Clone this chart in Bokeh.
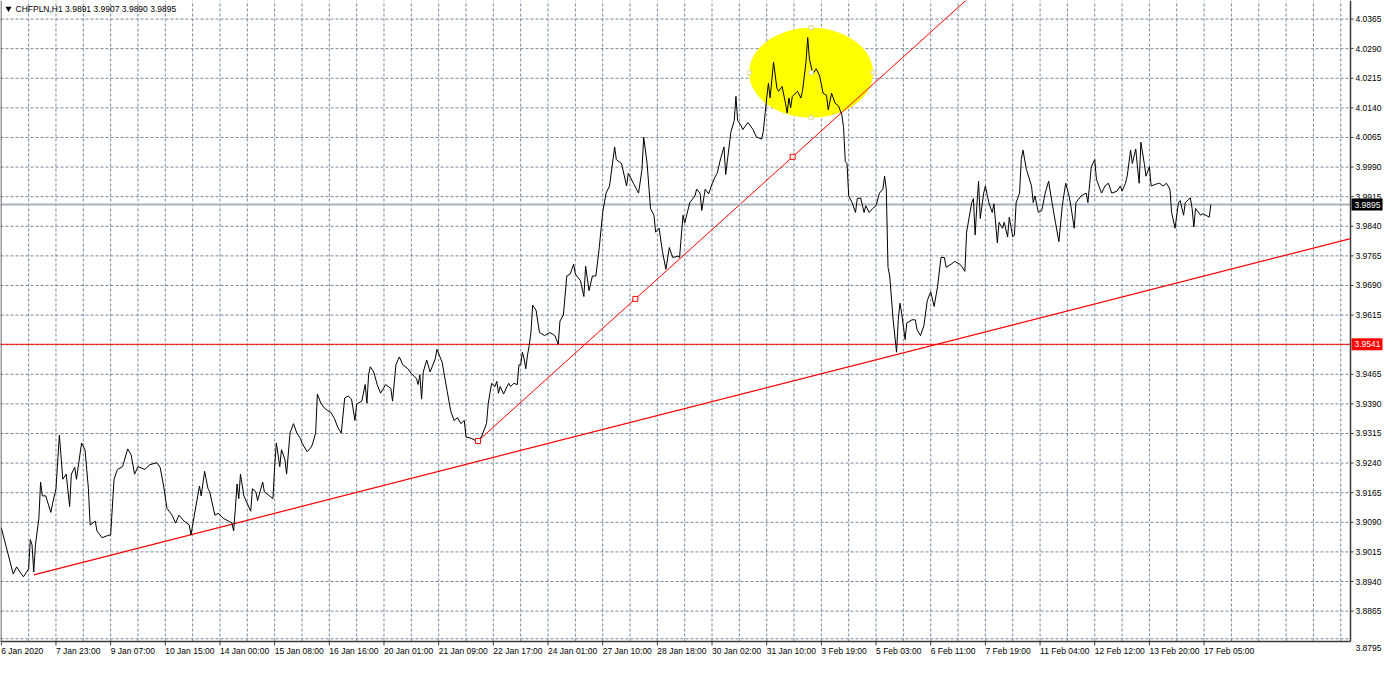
from bokeh.plotting import figure
from bokeh.models import Range1d
from bokeh.embed import file_html
from bokeh.resources import INLINE
from bokeh.core.properties import value

# ---------------- data (hourly bar index since 6 Jan 2020, close price) -------------
bars = [0, 2, 4, 7, 9, 11, 13, 16, 17, 18, 19, 20, 22, 23, 24, 26, 29, 30, 32, 34,
        36, 38, 40, 41, 43, 44, 47, 49, 51, 52, 55, 56, 59, 62, 64, 66, 68, 71, 74, 76,
        78, 80, 84, 87, 91, 93, 95, 97, 100, 102, 104, 107, 110, 111, 113, 116, 117, 119, 121, 122,
        125, 127, 130, 133, 135, 136, 137, 138, 139, 140, 142, 146, 147, 149, 150, 153, 154, 157, 159, 160,
        161, 163, 164, 166, 167, 169, 171, 173, 175, 176, 179, 181, 182, 184, 185, 187, 189, 191, 193, 195,
        197, 199, 201, 203, 205, 207, 208, 211, 213, 214, 215, 216, 218, 220, 222, 225, 228, 229, 231, 233,
        235, 238, 240, 243, 244, 245, 246, 247, 249, 251, 254, 255, 258, 259, 261, 263, 265, 267, 269, 271,
        272, 275, 278, 281, 284, 285, 286, 287, 289, 290, 291, 292, 294, 296, 297, 298, 300, 302, 303, 304,
        305, 306, 307, 308, 309, 310, 311, 313, 315, 318,
        321, 324, 326, 327, 329, 331, 333, 335, 336, 339, 341, 342, 344, 346, 348, 350, 352, 354, 356, 359,
        360, 363, 366, 367, 370, 373, 375, 376, 378, 380, 382, 383, 385, 387, 389, 391, 393, 396, 397, 399,
        400, 403, 406, 407, 409, 410, 412, 414, 416, 418, 419, 421, 423, 424, 427, 429, 430, 431, 433, 434,
        437, 440, 442, 445, 446, 448, 449, 450, 452, 454, 455, 457, 459, 460, 461, 462, 463, 466, 468, 469,
        471, 472, 473, 475, 477, 479, 481, 483, 484, 486, 488, 490, 492, 493, 494, 495, 496, 498, 500, 501,
        503, 505, 506, 508, 510, 512, 514, 516, 517, 518, 519, 520, 522, 524, 525, 526, 527, 529, 530, 533,
        535, 536, 538, 540, 542, 544, 546, 548, 550, 552, 553, 556, 558, 561, 562, 564, 565, 568, 569, 570,
        571, 572, 573, 575, 576, 578, 580, 581, 583, 584, 586, 587, 589, 590, 592, 593, 594, 596, 597, 598,
        600, 603, 604, 605, 607, 609, 611, 613, 615, 617, 619, 621, 623, 625, 626, 628, 629, 632, 635, 636,
        638, 640, 641, 644, 646, 648, 650, 653, 655, 656, 658, 659, 661, 662, 664, 665, 666, 667, 669, 670,
        672, 673, 676, 678, 680, 682, 684, 685, 687, 689, 690, 692, 693, 696, 697, 698, 699, 702, 703, 705,
        707, 708]

close = [3.9076, 3.9043, 3.9009, 3.8959, 3.8977, 3.8964, 3.8952, 3.8972, 3.9046, 3.9033, 3.8964, 3.9033, 3.9100, 3.9192, 3.9157, 3.9157, 3.9115, 3.9137, 3.9175, 3.9311,
         3.9199, 3.9212, 3.9130, 3.9212, 3.9229, 3.9199, 3.9291, 3.9274, 3.9175, 3.9083, 3.9093, 3.9068, 3.9051, 3.9056, 3.9058, 3.9199, 3.9224, 3.9231, 3.9276, 3.9261,
         3.9212, 3.9231, 3.9224, 3.9236, 3.9241, 3.9229, 3.9182, 3.9125, 3.9108, 3.9088, 3.9108, 3.9093, 3.9083, 3.9058, 3.9108, 3.9182, 3.9157, 3.9219, 3.9175, 3.9167,
         3.9108, 3.9113, 3.9100, 3.9093, 3.9088, 3.9068, 3.9125, 3.9187, 3.9150, 3.9212, 3.9157, 3.9118, 3.9175, 3.9167, 3.9145, 3.9192, 3.9167, 3.9157, 3.9150, 3.9231,
         3.9291, 3.9231, 3.9274, 3.9249, 3.9212, 3.9316, 3.9340, 3.9316, 3.9303, 3.9291, 3.9269, 3.9278, 3.9286, 3.9316, 3.9415, 3.9392, 3.9380, 3.9373, 3.9368, 3.9353,
         3.9330, 3.9316, 3.9405, 3.9410, 3.9402, 3.9348, 3.9390, 3.9397, 3.9439, 3.9392, 3.9464, 3.9484, 3.9471, 3.9439, 3.9417, 3.9439, 3.9429, 3.9397, 3.9489, 3.9509,
         3.9489, 3.9479, 3.9467, 3.9454, 3.9439, 3.9464, 3.9402, 3.9471, 3.9501, 3.9471, 3.9504, 3.9528, 3.9496, 3.9471, 3.9422, 3.9373, 3.9348, 3.9355, 3.9340, 3.9348,
         3.9306, 3.9303, 3.9296, 3.9306, 3.9340, 3.9390, 3.9417, 3.9442, 3.9434, 3.9447, 3.9417, 3.9434, 3.9415, 3.9434, 3.9442, 3.9434, 3.9442, 3.9439, 3.9489, 3.9489,
         3.9521, 3.9504, 3.9479, 3.9514, 3.9538, 3.9571, 3.9640, 3.9627, 3.9571, 3.9563,
         3.9571, 3.9563, 3.9541, 3.9600, 3.9615, 3.9714, 3.9719, 3.9744, 3.9719, 3.9702, 3.9662, 3.9739, 3.9677, 3.9714, 3.9714, 3.9786, 3.9875, 3.9924, 3.9942, 4.0041,
         4.0009, 3.9999, 3.9942, 3.9974, 3.9949, 3.9924, 3.9984, 4.0066, 3.9999, 3.9885, 3.9868, 3.9825, 3.9835, 3.9776, 3.9731, 3.9786, 3.9761, 3.9764, 3.9761, 3.9868,
         3.9848, 3.9900, 3.9917, 3.9934, 3.9924, 3.9880, 3.9934, 3.9922, 3.9947, 3.9967, 3.9974, 4.0011, 4.0041, 3.9971, 4.0078, 4.0108, 4.0169, 4.0108, 4.0095, 4.0085,
         4.0103, 4.0085, 4.0066, 4.0061, 4.0080, 4.0165, 4.0202, 4.0165, 4.0256, 4.0189, 4.0182, 4.0194, 4.0152, 4.0127, 4.0165, 4.0140, 4.0169, 4.0182, 4.0165, 4.0184,
         4.0256, 4.0318, 4.0264, 4.0226, 4.0239, 4.0221, 4.0177, 4.0172, 4.0135, 4.0177, 4.0152, 4.0145, 4.0122, 4.0090, 4.0004, 3.9999, 3.9917, 3.9900, 3.9875, 3.9910,
         3.9912, 3.9875, 3.9892, 3.9875, 3.9885, 3.9892, 3.9924, 3.9934, 3.9967, 3.9934, 3.9736, 3.9714, 3.9603, 3.9521, 3.9603, 3.9645, 3.9620, 3.9553, 3.9595, 3.9603,
         3.9603, 3.9578, 3.9563, 3.9588, 3.9652, 3.9674, 3.9637, 3.9687, 3.9761, 3.9761, 3.9736, 3.9744, 3.9751, 3.9744, 3.9739, 3.9726, 3.9825, 3.9900, 3.9910, 3.9818,
         3.9892, 3.9954, 3.9860, 3.9924, 3.9942, 3.9900, 3.9875, 3.9897, 3.9798, 3.9850, 3.9835, 3.9850, 3.9813, 3.9863, 3.9813, 3.9818, 3.9900, 3.9924, 4.0009, 4.0033,
         3.9984, 3.9942, 3.9900, 3.9917, 3.9875, 3.9880, 3.9924, 3.9954, 3.9900, 3.9850, 3.9801, 3.9892, 3.9949, 3.9917, 3.9892, 3.9835, 3.9900, 3.9917, 3.9924, 3.9900,
         3.9991, 4.0009, 3.9959, 3.9924, 3.9942, 3.9949, 3.9924, 3.9929, 3.9942, 3.9929, 3.9949, 3.9967, 4.0033, 3.9999, 4.0036, 3.9991, 3.9949, 4.0053, 3.9999, 3.9967,
         3.9991, 3.9942, 3.9947, 3.9949, 3.9942, 3.9949, 3.9934, 3.9875, 3.9835, 3.9900, 3.9905, 3.9868, 3.9900, 3.9912, 3.9885, 3.9838, 3.9885, 3.9868, 3.9872, 3.9868,
         3.9863, 3.9895]

x_labels = ["6 Jan 2020", "7 Jan 23:00", "9 Jan 07:00", "10 Jan 15:00", "14 Jan 00:00",
            "15 Jan 08:00", "16 Jan 16:00", "20 Jan 01:00", "21 Jan 09:00", "22 Jan 17:00",
            "24 Jan 01:00", "27 Jan 10:00", "28 Jan 18:00", "30 Jan 02:00", "31 Jan 10:00",
            "3 Feb 19:00", "5 Feb 03:00", "6 Feb 11:00", "7 Feb 19:00", "11 Feb 04:00",
            "12 Feb 12:00", "13 Feb 20:00", "17 Feb 05:00"]
x_label_bars = [0, 32, 64, 96, 128, 160, 192, 224, 256, 288, 320, 352, 384, 416, 448,
                480, 512, 544, 576, 608, 640, 672, 704]

y_ticks = [3.8865, 3.8940, 3.9015, 3.9090, 3.9165, 3.9240, 3.9315, 3.9390, 3.9465,
           3.9615, 3.9690, 3.9765, 3.9840, 3.9915, 3.9990, 4.0065, 4.0140, 4.0215,
           4.0290, 4.0365]
y_grid_extra = [3.8795, 3.9540]
y_bottom_label = 3.8795

title_text = "CHFPLN,H1  3.9891 3.9907 3.9890 3.9895"
bid_price = 3.9895
level_price = 3.9541

# drawn objects (anchor points: bar, price)
trend1 = [(19, 3.8957), (524, 3.9515)]      # long support ray
trend2 = [(279, 3.9296), (463.2, 4.0016)]   # steep selected ray
ellipse_center = (474.0, 4.0229)
ellipse_w_bars = 72.5
ellipse_h_price = 0.0228

# ---------------- layout -----------------------------------------------------------
W, H = 1384, 658          # canvas
CW, CH = 1350, 641        # chart (price area) size in px, at top-left of canvas
X0, X1 = -0.46, 789.7     # visible bars in chart area
Y0, Y1 = 3.8788, 4.0412   # visible prices in chart area
ppb = CW / (X1 - X0)
ppp = CH / (Y1 - Y0)
def dx(px): return px / ppb
def dy(px): return px / ppp

FONT = value("Liberation Sans")
FS = "8.5px"
GRID = "#778899"
FRAME = "#3a3a3a"

p = figure(width=W, height=H,
           x_range=Range1d(X0, X0 + W / ppb), y_range=Range1d(Y1 - H / ppp, Y1),
           x_axis_location=None, y_axis_location=None,
           output_backend="svg", toolbar_location=None,
           min_border=0, min_border_left=0, min_border_right=0,
           min_border_top=0, min_border_bottom=0,
           background_fill_color="white", border_fill_color="white")
p.outline_line_color = None
p.xgrid.visible = False
p.ygrid.visible = False

# grid (dashed)
gx = [b for b in range(16, 790, 16) if b < X1]
p.segment(x0=gx, y0=[Y0] * len(gx), x1=gx, y1=[Y1] * len(gx),
          line_color=GRID, line_dash="3 2", line_width=1)
gy = sorted(y_ticks + y_grid_extra)
p.segment(x0=[X0] * len(gy), y0=gy, x1=[X1] * len(gy), y1=gy,
          line_color=GRID, line_dash="3 2", line_width=1)

# yellow ellipse
p.ellipse(x=[ellipse_center[0]], y=[ellipse_center[1]], width=[ellipse_w_bars],
          height=[ellipse_h_price], fill_color="#ffff00", line_color=None)

# trend rays (extended to the right edge of the chart area)
def ray(a, b):
    (x1, y1), (x2, y2) = a, b
    slope = (y2 - y1) / (x2 - x1)
    return [x1, X1], [y1, y1 + slope * (X1 - x1)]

rx, ry = ray(*trend1)
p.line(rx, ry, color="#ff0000", line_width=1.2)
rx2, ry2 = ray(*trend2)
p.line(rx2, ry2, color="#ff0000", line_width=1)

# horizontal lines: bid and level
p.line([X0, X1], [bid_price, bid_price], color="#a9b3bd", line_width=2)
p.line([X0, X1], [level_price, level_price], color="#ff0000", line_width=1)

# price line
p.line(bars, close, color="black", line_width=1)

# selection handles on steep trend line
mid = ((trend2[0][0] + trend2[1][0]) / 2, (trend2[0][1] + trend2[1][1]) / 2)
p.scatter([trend2[0][0], mid[0], trend2[1][0]], [trend2[0][1], mid[1], trend2[1][1]],
          marker="square", size=5, fill_color="white", line_color="#ff0000", line_width=1)

# selection handles on ellipse
ex, ey = ellipse_center
hx = [ex, ex - ellipse_w_bars / 2, ex + ellipse_w_bars / 2, ex, ex]
hy = [ey + ellipse_h_price / 2, ey, ey, ey - ellipse_h_price / 2, ey]
p.scatter(hx, hy, marker="square", size=4, fill_color="white", line_color="#d8d890", line_width=1)

# chart frame (left, right, bottom)
p.line([X0 + dx(0.5), X0 + dx(0.5)], [Y0, Y1], color=FRAME, line_width=1)
p.line([X1, X1], [Y0, Y1], color=FRAME, line_width=1.5)
p.line([X0, X1], [Y0, Y0], color=FRAME, line_width=1.5)

# price scale: ticks + labels
n = len(y_ticks)
p.segment(x0=[X1] * n, y0=y_ticks, x1=[X1 + dx(3)] * n, y1=y_ticks, line_color=FRAME, line_width=1)
p.text(x=[X1 + dx(5)] * n, y=y_ticks, text=[f"{t:.4f}" for t in y_ticks],
       text_align="left", text_baseline="middle", text_font=FONT,
       text_font_size=FS, text_color="black")
p.text(x=[X1 + dx(5)], y=[Y0 - dy(3)], text=[f"{y_bottom_label:.4f}"],
       text_align="left", text_baseline="top", text_font=FONT,
       text_font_size=FS, text_color="black")

# time scale: ticks + labels (left-aligned at tick)
m = len(x_label_bars)
p.segment(x0=x_label_bars, y0=[Y0] * m, x1=x_label_bars, y1=[Y0 - dy(4)] * m,
          line_color=FRAME, line_width=1)
p.text(x=x_label_bars, y=[Y0 - dy(4)] * m, text=x_labels,
       text_align="left", text_baseline="top", text_font=FONT,
       text_font_size=FS, text_color="black")

# price boxes on the scale
bp = [bid_price, level_price]
p.quad(left=[X1 + dx(1)] * 2, right=[X1 + dx(32)] * 2,
       top=[v + dy(6) for v in bp], bottom=[v - dy(6) for v in bp],
       fill_color=["black", "#ff0000"], line_color=None)
p.text(x=[X1 + dx(4)] * 2, y=bp, text=[f"{v:.4f}" for v in bp],
       text_align="left", text_baseline="middle", text_font=FONT,
       text_font_size=FS, text_color="white")

# title
p.scatter([X0 + dx(8)], [Y1 - dy(8)], marker="inverted_triangle", size=6,
          fill_color="black", line_color=None)
p.text(x=[X0 + dx(15)], y=[Y1 - dy(3)], text=[title_text],
       text_align="left", text_baseline="top", text_font=FONT,
       text_font_size=FS, text_color="black")

open("out.html", "w").write(file_html(p, INLINE))
